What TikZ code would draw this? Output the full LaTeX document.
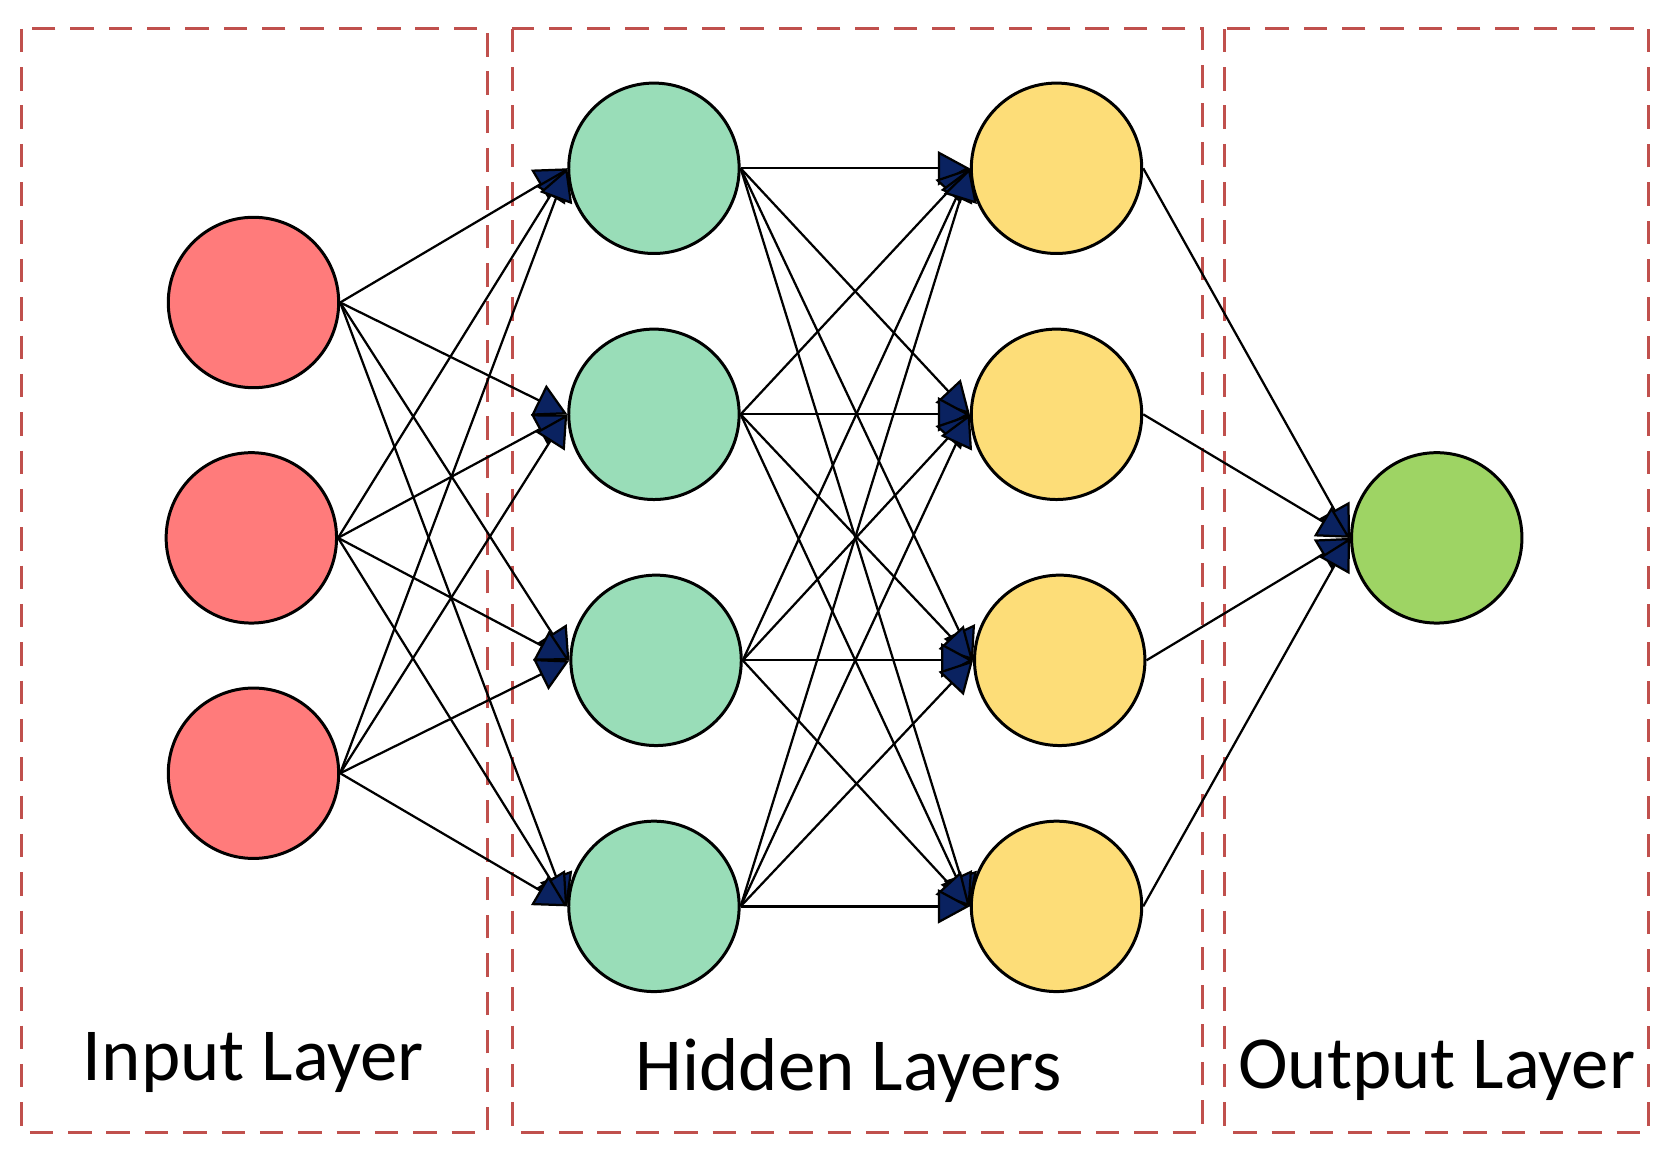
\documentclass[tikz,border=0pt]{standalone}
\usepackage{fontspec}
\setmainfont{Carlito}
\usetikzlibrary{arrows.meta}
\definecolor{inred}{HTML}{FF7B7B}
\definecolor{hidgreen}{HTML}{99DDB8}
\definecolor{hidyellow}{HTML}{FDDD78}
\definecolor{outgreen}{HTML}{9ED464}
\definecolor{boxred}{HTML}{C0504D}
\definecolor{tipblue}{HTML}{0A2260}
\tikzset{
  neuron/.style={circle, draw=black, thick, minimum size=16mm, inner sep=0pt},
  link/.style={-{Triangle[length=3mm,width=3.2mm,fill=tipblue]}, semithick},
  layerbox/.style={draw=boxred, thick, dash pattern=on 2.2mm off 1.4mm},
  layerlabel/.style={font=\fontsize{20}{24}\selectfont}
}
\begin{document}
\begin{tikzpicture}[x=0.1mm, y=-0.1mm]
        \useasboundingbox (0,0) rectangle (1568,1086);
        
        % Layer boxes
        \draw[layerbox] (20,27) rectangle (458,1063);
        \draw[layerbox] (481,27) rectangle (1129,1063);
        \draw[layerbox] (1150,27) rectangle (1548,1063);
        
        % Neurons
        \node[neuron, fill=inred] (i1) at (238,284) {};
        \node[neuron, fill=inred] (i2) at (236,505) {};
        \node[neuron, fill=inred] (i3) at (238,726) {};
        \node[neuron, fill=hidgreen] (a1) at (614,158) {};
        \node[neuron, fill=hidgreen] (a2) at (614,389) {};
        \node[neuron, fill=hidgreen] (a3) at (616,620) {};
        \node[neuron, fill=hidgreen] (a4) at (614,851) {};
        \node[neuron, fill=hidyellow] (b1) at (992,158) {};
        \node[neuron, fill=hidyellow] (b2) at (992,389) {};
        \node[neuron, fill=hidyellow] (b3) at (995,620) {};
        \node[neuron, fill=hidyellow] (b4) at (992,851) {};
        \node[neuron, fill=outgreen] (o) at (1349,505) {};
        
        % Connections
        \foreach \s in {1,2,3}
          \foreach \t in {1,...,4}
            \draw[link] (i\s.east) -- (a\t.west);
        \foreach \s in {1,...,4}
          \foreach \t in {1,...,4}
            \draw[link] (a\s.east) -- (b\t.west);
        \foreach \s in {1,...,4}
          \draw[link] (b\s.east) -- (o.west);
        
        % Labels
        \node[layerlabel] (lin) at (238,998) {Input Layer};
        \node[layerlabel] (lhid) at (797,1005) {Hidden Layers};
        \node[layerlabel] (lout) at (1349,1005) {Output Layer};
\end{tikzpicture}
\end{document}
